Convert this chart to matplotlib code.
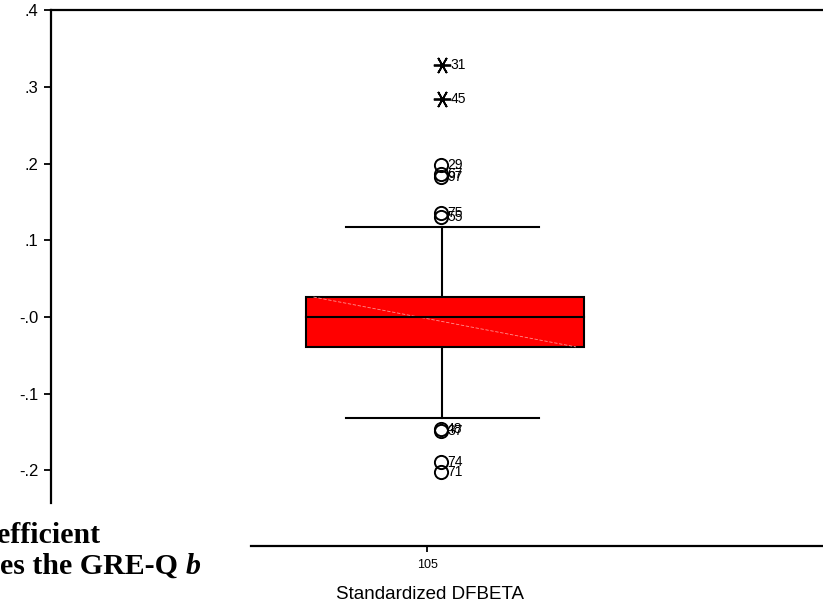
import matplotlib
matplotlib.use("Agg")
import matplotlib.pyplot as plt
import numpy as np

plt.rcParams['font.family'] = ['Liberation Sans', 'DejaVu Sans']

################################################################
# Data
################################################################
category = ['105']
box_q1 = -0.039
box_median = 0.0
box_q3 = 0.026
whisker_lo = -0.132
whisker_hi = 0.117

outlier_ids = ['29', '67', '97', '75', '55', '48', '37', '74', '71']
outlier_vals = [0.198, 0.187, 0.183, 0.136, 0.130, -0.146, -0.149, -0.189, -0.202]
extreme_ids = ['31', '45']
extreme_vals = [0.329, 0.284]

y_ticks = [0.4, 0.3, 0.2, 0.1, 0.0, -0.1, -0.2]
y_ticklabels = ['.4', '.3', '.2', '.1', '-.0', '-.1', '-.2']

W, H = 823, 608
fig = plt.figure(figsize=(W / 100, H / 100), dpi=100)

def fx(px):
    return px / W

def fy(py):
    return 1 - py / H

################################################################
# Main panel
################################################################
ax = fig.add_axes([fx(51), fy(503), fx(772), 493 / H])
ax.set_xlim(0, 1)
ax.set_ylim(-0.2426, 0.4004)
ax.spines['right'].set_visible(False)
ax.spines['bottom'].set_visible(False)
ax.spines['left'].set_linewidth(1.6)
ax.spines['top'].set_linewidth(1.6)
ax.set_xticks([])
ax.set_yticks(y_ticks)
ax.set_yticklabels(y_ticklabels, fontsize=12)
ax.tick_params(axis='y', direction='out', length=5, width=1.3, pad=4)

pos = 0.510
bw = 0.360
cw = 0.251
xm = pos - 0.003

# box
ax.add_patch(plt.Rectangle((pos - bw / 2, box_q1), bw, box_q3 - box_q1,
                           facecolor='#ff0000', edgecolor='black', lw=1.5, zorder=2))
# faint diagonal artifact inside the box
ax.plot([pos - bw / 2 + 0.01, pos + bw / 2 - 0.01], [box_q3, box_q1],
        color='#ff9090', lw=0.6, ls=(0, (4, 2)), zorder=3)
ax.plot([pos - bw / 2, pos + bw / 2], [box_median, box_median], color='black', lw=1.5, zorder=4)
# whiskers
ax.plot([xm, xm], [box_q3, whisker_hi], color='black', lw=1.5, zorder=1)
ax.plot([xm, xm], [whisker_lo, box_q1], color='black', lw=1.5, zorder=1)
ax.plot([xm - cw / 2, xm + cw / 2], [whisker_hi, whisker_hi], color='black', lw=1.5)
ax.plot([xm - cw / 2, xm + cw / 2], [whisker_lo, whisker_lo], color='black', lw=1.5)

# outliers
xo = np.full(len(outlier_vals), xm - 0.002)
ax.plot(xo, outlier_vals, ls='None', marker='o', markersize=9.5,
        markerfacecolor='none', markeredgecolor='black', markeredgewidth=1.4, zorder=5)
for v, lab in zip(outlier_vals, outlier_ids):
    ax.annotate(lab, (xm - 0.002, v), xytext=(4.5, 0), textcoords='offset points',
                fontsize=10, va='center', ha='left')

xe = np.full(len(extreme_vals), xm)
ax.plot(xe, extreme_vals, ls='None', marker=(6, 2, 30), markersize=12.5,
        markeredgecolor='black', markeredgewidth=1.3, zorder=5)
for v, lab in zip(extreme_vals, extreme_ids):
    ax.annotate(lab, (xm, v), xytext=(6, 0), textcoords='offset points',
                fontsize=10, va='center', ha='left')

################################################################
# Detached category axis
################################################################
ax2 = fig.add_axes([fx(251), fy(546), fx(572), 0.0001])
ax2.set_xlim(0, 1)
for s in ['top', 'left', 'right']:
    ax2.spines[s].set_visible(False)
ax2.spines['bottom'].set_linewidth(1.6)
ax2.set_yticks([])
ax2.set_xticks([0.308])
ax2.set_xticklabels(category, fontsize=9)
ax2.tick_params(axis='x', direction='out', length=4, width=1.3, pad=5)
ax2.set_xlabel('Standardized DFBETA', fontsize=13.5, labelpad=11)
ax2.xaxis.label.set_x(0.313)

################################################################
# Caption fragment overlapping the chart
################################################################
cap = dict(family='Liberation Serif', fontweight='bold', fontsize=21.5, va='baseline')
fig.text(fx(-3), fy(543), 'efficient', **cap)
t2 = fig.text(fx(0), fy(574), 'es the GRE-Q ', **cap)
fig.canvas.draw()
bb = t2.get_window_extent(renderer=fig.canvas.get_renderer())
fig.text(bb.x1 / W, fy(574), 'b', style='italic', **cap)

fig.savefig('out.png', dpi=100)
